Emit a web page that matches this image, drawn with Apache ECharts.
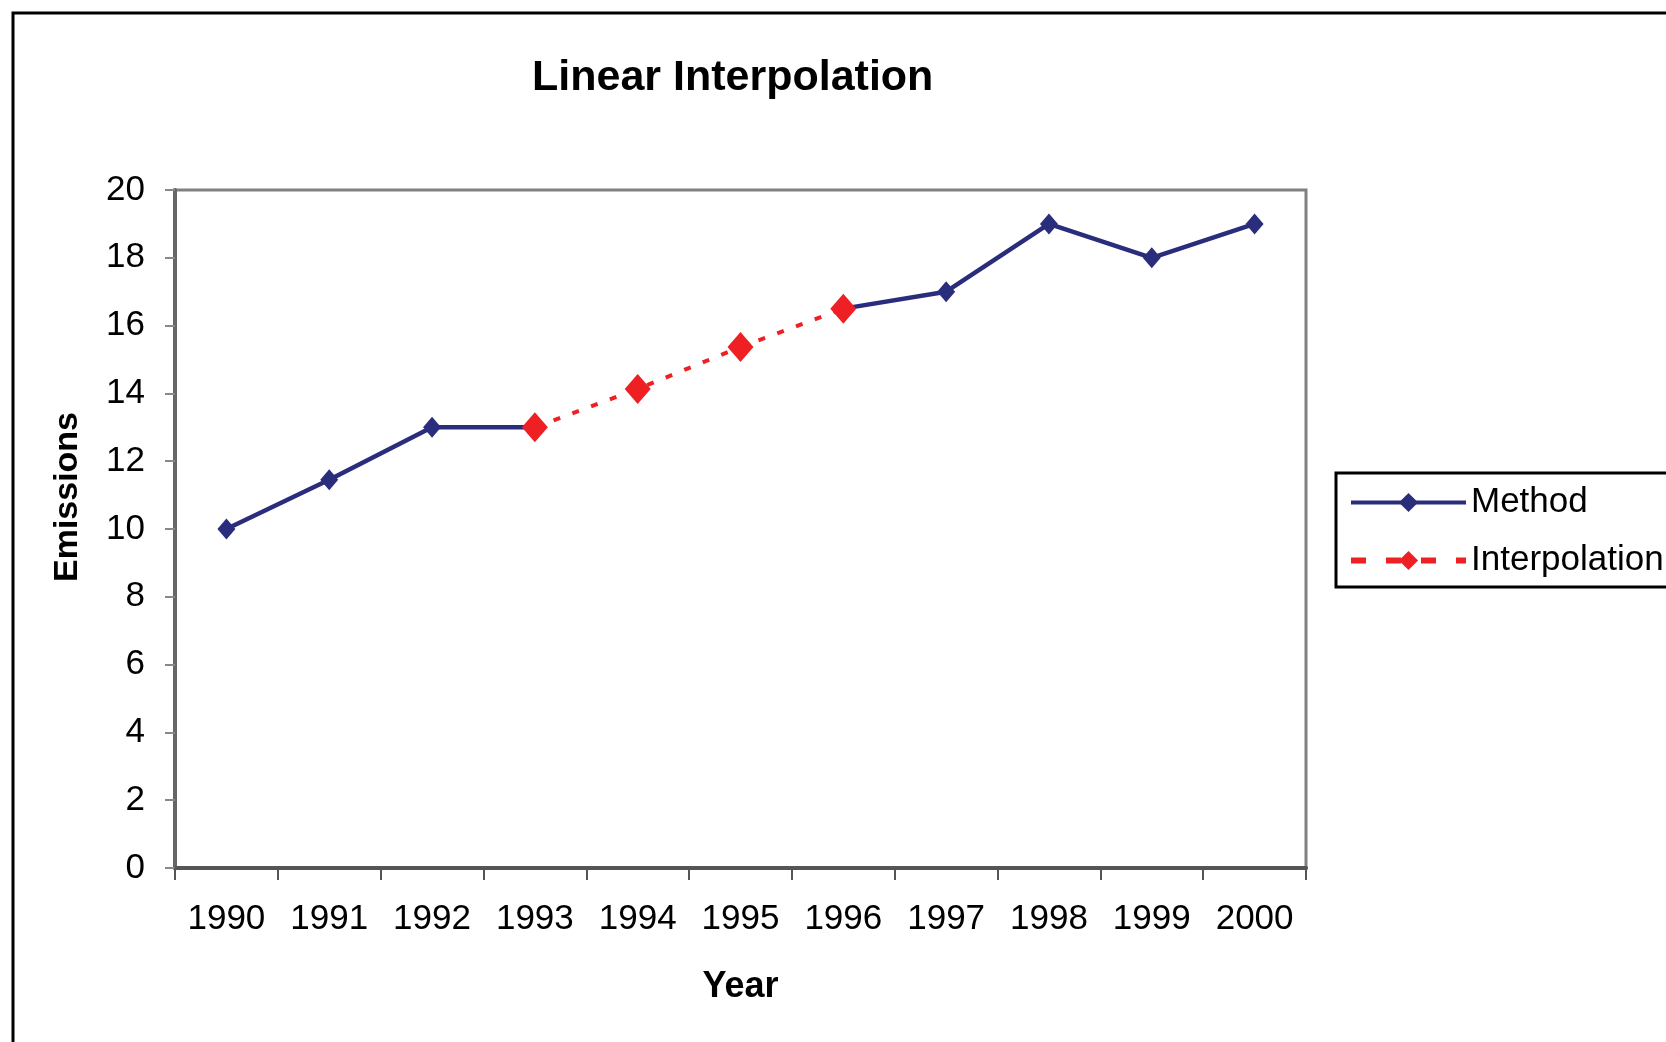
<!DOCTYPE html>
<html>
<head>
<meta charset="utf-8">
<script src="https://cdn.jsdelivr.net/npm/echarts@6/dist/echarts.min.js"></script>
<style>
html,body{margin:0;padding:0;background:#fff;}
#chart{width:1666px;height:1042px;}
</style>
</head>
<body>
<div id="chart"></div>
<script>
var years = ['1990','1991','1992','1993','1994','1995','1996','1997','1998','1999','2000'];
var methodValues = [10, 11.45, 13, 13, null, null, 16.5, 17, 19, 18, 19];
var interpolationValues = [null, null, null, 13, 14.13, 15.37, 16.5, null, null, null, null];
var yTicks = {min: 0, max: 20, interval: 2};

var FONT = 'Liberation Sans';
var chart = echarts.init(document.getElementById('chart'));
chart.setOption({
  backgroundColor: '#ffffff',
  animation: false,
  title: {
    text: 'Linear Interpolation',
    left: 527,
    top: 52,
    textStyle: {fontFamily: FONT, fontSize: 43, fontWeight: 'bold', color: '#000'}
  },
  graphic: [
    {type: 'rect', shape: {x: 13, y: 13, width: 2000, height: 2000}, style: {fill: 'none', stroke: '#000', lineWidth: 3}, silent: true},
    {type: 'rect', shape: {x: 1336, y: 473, width: 500, height: 114}, style: {fill: '#fff', stroke: '#000', lineWidth: 3}, silent: true, z: -1}
  ],
  legend: {
    orient: 'vertical',
    left: 1348,
    top: 485,
    padding: 0,
    itemWidth: 115,
    itemHeight: 24,
    itemGap: 23,
    textStyle: {fontFamily: FONT, fontSize: 35, color: '#000', padding: [0, 0, 0, 0]},
    data: [
      {name: 'Method', lineStyle: {width: 4}},
      {name: 'Interpolation', lineStyle: {type: [15, 20], width: 6}}
    ]
  },
  grid: {
    left: 175, right: 360, top: 190, bottom: 174,
    show: true, borderColor: '#808080', borderWidth: 3, backgroundColor: '#fff'
  },
  xAxis: {
    type: 'category',
    data: years,
    boundaryGap: true,
    name: 'Year',
    nameLocation: 'middle',
    nameGap: 101,
    nameTextStyle: {fontFamily: FONT, fontSize: 36, fontWeight: 'bold', color: '#000'},
    axisLine: {lineStyle: {color: '#555', width: 4}},
    axisTick: {show: true, length: 12, lineStyle: {color: '#555', width: 2}},
    axisLabel: {fontFamily: FONT, fontSize: 35, color: '#000', margin: 34, interval: 0},
    splitLine: {show: false}
  },
  yAxis: {
    type: 'value',
    min: yTicks.min, max: yTicks.max, interval: yTicks.interval,
    name: 'Emissions',
    nameLocation: 'middle',
    nameGap: 90,
    nameTextStyle: {fontFamily: FONT, fontSize: 34, fontWeight: 'bold', color: '#000', padding: [0, 0, 0, 64]},
    axisLine: {show: true, lineStyle: {color: '#666', width: 4}},
    axisTick: {show: true, length: 10, lineStyle: {color: '#888', width: 2}},
    axisLabel: {fontFamily: FONT, fontSize: 35, color: '#000', margin: 30},
    splitLine: {show: false}
  },
  series: [
    {
      name: 'Method',
      type: 'line',
      data: methodValues,
      connectNulls: false,
      symbol: 'diamond',
      symbolSize: [18, 21],
      lineStyle: {color: '#2A2D7C', width: 4.5},
      itemStyle: {color: '#2A2D7C'},
      z: 2
    },
    {
      name: 'Interpolation',
      type: 'line',
      data: interpolationValues,
      connectNulls: false,
      symbol: 'diamond',
      symbolSize: [26, 30],
      lineStyle: {color: '#EE2024', width: 4, type: [7, 13]},
      itemStyle: {color: '#EE2024'},
      z: 3
    }
  ]
});
</script>
</body>
</html>
